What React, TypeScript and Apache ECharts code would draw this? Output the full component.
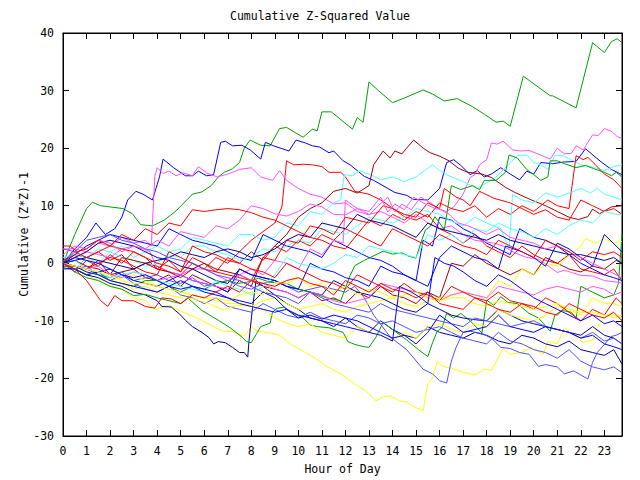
import React, { useEffect, useRef } from "react";
import * as echarts from "echarts";

type P = [number, number][];

const xTickLabels = ["0","1","2","3","4","5","6","7","8","9","10","11","12","13","14","15","16","17","18","19","20","21","22","23"];

const RED = "#ff0000", GREEN = "#00a000", BLUE = "#0000ff", MAGENTA = "#ff50ff", CYAN = "#50ffff",
  YELLOW = "#ffff00", DARKRED = "#a00000", NAVY = "#0000a0", LIGHTBLUE = "#5050ff";

const greenTop: P = [[0,0],[0.5,5],[1,9.5],[1.25,10.6],[1.6,10],[2.55,9.5],[2.95,8.6],[3.3,6.7],[3.8,6.5],[4.3,7.5],[4.75,8.9],[5.5,12],[5.9,12.4],[6.3,13.5],[6.6,15],[6.85,15.8],[7.2,16.4],[7.5,17.5],[7.7,20],[7.95,21.4],[8.4,20.5],[8.8,20.4],[9.2,23.4],[9.5,23.6],[10.2,21.9],[10.6,23.3],[10.8,23],[11,26.3],[11.4,26.3],[12.3,23.3],[12.5,25.3],[12.75,24.5],[13,31.5],[13.4,30],[14,27.9],[14.5,28.7],[15.3,30.1],[15.7,29.4],[16.2,28.2],[16.75,28.6],[17.4,27.2],[17.9,25.9],[18.4,24.5],[18.7,24.7],[19,23.8],[19.56,32.5],[19.86,31.6],[20.7,29.1],[20.8,29.1],[21.8,27],[22.5,38.3],[23,36.6],[23.3,38.5],[23.55,39],[23.75,38.3]];

const magentaTop: P = [[0,2.5],[0.5,2.5],[1,2],[1.5,3.5],[2,3],[2.5,4.5],[3,3.5],[3.5,4],[3.75,3],[3.9,15],[4,16.6],[4.25,15.6],[4.5,16],[4.8,15.2],[5.1,15.7],[5.5,15.2],[5.75,16.8],[6.1,15.7],[6.55,15],[7,15.5],[7.5,16.3],[8,16.6],[8.4,15],[8.9,14.4],[9.2,16.1],[9.5,14.4],[10,13],[10.5,12],[11,11.5],[11.5,10.3],[12,10.5],[12.5,9],[13,8.4],[13.4,10],[13.8,11.5],[14.1,8.9],[14.4,10.3],[14.8,9.3],[15.2,11.5],[15.6,10.5],[16,9.4],[16.3,9],[16.6,9.8],[17,12],[17.3,14.9],[17.5,15.4],[17.7,17.1],[18,18],[18.2,20.9],[18.45,20.7],[18.7,21.2],[19.1,19.7],[19.45,19.5],[19.8,19.6],[20.3,18.8],[20.7,18.1],[21,20],[21.3,19],[21.6,19.1],[21.8,20.4],[22.1,19.7],[22.5,22.3],[22.75,22.2],[23,23.4],[23.3,22.9],[23.55,22],[23.75,21.7]];

const blueTop: P = [[0,0],[0.5,2.5],[1,4.5],[1.4,7],[1.8,5],[2.2,6],[2.5,8],[2.75,11],[3.1,12.5],[3.4,12],[3.8,11],[4.1,15],[4.25,18.1],[4.7,16.6],[5.2,15.2],[5.5,15.2],[5.75,16],[6.1,15.2],[6.4,15.4],[6.7,21],[6.9,21.2],[7.2,20.4],[7.6,20.5],[7.95,19.7],[8.4,18.1],[8.6,21],[8.95,20.4],[9.6,19.5],[9.9,21.4],[10.3,20.9],[10.6,20.4],[10.9,20.2],[11.3,19.2],[11.5,19.5],[11.9,17.8],[12.2,17.1],[12.5,16.1],[12.8,15.1],[13.2,14.4],[13.8,13],[14.1,12.3],[14.6,11.8],[14.9,11.1],[15.5,11],[15.8,12.2],[16,13],[16.3,17.5],[16.6,18],[16.9,17],[17.3,15.4],[17.6,16.1],[17.9,15],[18.2,15.5],[18.6,16.6],[19,15.5],[19.4,14.5],[19.7,16],[20,15.5],[20.3,17.5],[20.8,17.3],[21.3,17.6],[21.8,17.7],[22.2,19.9],[22.6,18.5],[22.9,17.5],[23.3,16.3],[23.75,15.4]];

const redRight: P = [[0,0],[0.5,-1.5],[1,0.5],[1.5,-0.5],[2,1.5],[2.5,0],[3,2],[3.5,1],[4,-1],[4.5,0.5],[5,-1.5],[5.5,1],[6,0],[6.5,-1.5],[7,1],[7.5,0],[8,2],[8.5,0.5],[9,3],[9.5,2],[10,4],[10.5,3],[11,5],[11.5,4],[12,6],[12.5,5],[13,7.5],[13.5,6.5],[14,8.5],[14.5,7.5],[15,9],[15.5,8],[16,10.5],[16.5,9.5],[17,9],[17.5,10],[18,8],[18.5,9.5],[19,8.5],[19.5,10],[20,9],[20.6,11],[21,10],[21.5,9.5],[21.8,18.7],[22.1,18],[22.3,18.4],[22.6,17.2],[23,15.5],[23.4,14.5],[23.75,13]];

const redJump: P = [[0,0.5],[0.5,1.5],[1,1],[1.5,2],[2,0.5],[2.5,1.5],[3,-1],[3.5,0],[4,-0.5],[4.5,-1.5],[5,-2],[5.5,0],[6,-1],[6.5,1],[7,0],[7.5,2],[8,4],[8.5,5.5],[9,7],[9.3,9.8],[9.5,17.8],[9.8,17.1],[10.2,17.2],[10.6,17.1],[11,16.8],[11.3,15.8],[11.8,15.8],[12,15],[12.4,12.5],[13,12],[13.5,11],[14,9.6],[14.5,8.1],[15,7.5],[15.5,8.5],[16,6],[16.5,5],[17,3.5],[17.5,5],[18,3],[18.5,2],[19,1],[19.5,3],[20,1.5],[20.5,0.5],[21,0],[21.5,1.5],[22,-1],[22.5,-1.5],[23,-2],[23.4,-1],[23.75,-3]];

const darkRedUp: P = [[0,-0.5],[0.5,-0.5],[1,-1],[1.5,0.5],[2,-2],[2.5,-1.5],[3,-1],[3.5,-2.5],[4,-3],[4.5,-2],[5,-4],[5.5,-2],[6,-3],[6.5,-4],[7,-5],[7.5,-3],[8,-4],[8.5,1],[9,3],[9.5,5],[10,8],[10.5,9.5],[11,10.5],[11.5,12.5],[12,13],[12.5,12.2],[13,13.5],[13.2,17.1],[13.6,19.5],[13.9,18.3],[14.1,19.5],[14.4,19],[14.6,20],[14.9,21.4],[15.3,20],[15.6,19.2],[16,18.6],[16.4,17.8],[16.8,16.5],[17.2,15.8],[17.8,15.5],[18.2,14.9],[18.8,13.2],[19.2,12.3],[19.9,11],[20.5,10],[21,9],[21.5,8],[21.9,7.6],[22.3,8.1],[22.5,9.4],[22.8,8.6],[23.3,9.8],[23.75,10]];

const cyanHigh: P = [[0,1],[0.5,1.5],[1,1],[1.5,2.5],[2,2],[2.5,3],[3,1],[3.5,2],[4,3],[4.5,2],[5,2.5],[5.5,4.5],[6,4],[6.5,3.5],[7,3],[7.5,5],[8,5],[8.5,4],[9,4.5],[9.5,7],[10,6.5],[10.5,9],[11,8.5],[11.5,10.5],[11.8,11],[11.95,15.4],[12.3,15.2],[12.6,16.1],[13,15.5],[13.5,14.5],[14,15],[14.5,14.2],[15,15],[15.5,16.5],[15.7,17.1],[16,16.1],[16.4,15.2],[16.8,14.5],[17.2,13.8],[17.6,13],[18,14],[18.4,15],[18.9,17],[19.3,18.7],[19.7,18.8],[20,17.5],[20.3,17.1],[20.6,16.3],[20.9,18.8],[21.3,18.6],[21.6,18],[22,17.1],[22.6,16.6],[23,16.1],[23.4,16.8],[23.75,17.1]];

const cyanRight: P = [[0,0],[0.5,-1],[1,1],[1.5,0],[2,2],[2.5,1],[3,0.5],[3.5,-0.5],[4,0],[4.5,1.5],[5,1],[5.5,3],[6,3],[6.5,2],[7,1.5],[7.5,0.5],[8,1],[8.5,2.5],[9,2],[9.5,3],[10,4],[10.5,3.5],[11,6],[11.5,5.5],[12,5],[12.5,6.5],[13,8],[13.5,7.5],[14,7],[14.5,8],[15,9.5],[15.5,9],[16,8.5],[16.4,7.5],[16.7,7],[17,6.5],[17.5,8],[18,7],[18.6,6],[18.95,2.5],[19.1,12],[19.5,11],[20,10.5],[20.5,12.2],[21,11.5],[21.5,12.2],[22,13],[22.4,12.2],[22.7,13],[23,12],[23.4,11.5],[23.75,11]];

const redMid: P = [[0,0],[0.5,-0.5],[1,-1],[1.5,0],[2,1],[2.5,0.5],[3,-0.5],[3.5,-1.5],[4,-2],[4.5,2],[5,1],[5.5,0],[6,-1],[6.5,-1.5],[7,-2],[7.5,-2.5],[8,-3],[8.5,1],[9,0.5],[9.5,4],[10,3.5],[10.5,6.5],[11,6],[11.5,5],[12,8],[12.5,7.5],[13,7],[13.6,10],[14,9.5],[14.5,8.5],[15,8],[15.5,10.5],[16,9.5],[16.2,13],[16.7,11.5],[17,11],[17.3,10],[17.7,12.5],[18.3,11.3],[19,10.5],[19.5,9.5],[20,8.5],[20.5,9.3],[21,8],[21.5,7.5],[22,11],[22.5,10],[23,9],[23.4,9.5],[23.75,8.5]];

const magentaLow: P = [[0,0],[0.5,1],[1,2],[1.5,1.5],[2,1],[2.5,2.5],[3,3],[3.4,2.5],[3.7,2],[4,-1],[4.5,-1.5],[5,-2],[5.5,-1],[6,-1],[6.5,-2],[7,-3],[7.5,-2],[8,-1],[8.5,-2],[9,0.5],[9.5,0],[10,-1],[10.5,2.5],[11,1.5],[11.5,4],[11.9,3.5],[12,11],[12.5,9.5],[13,8.5],[13.5,9],[14,8],[14.5,7],[15,8.5],[15.5,7],[16,6],[16.5,6.5],[17,5],[17.5,4],[18.3,3.5],[18.7,3],[19.2,1.8],[19.7,1],[20.2,0.7],[20.6,-0.4],[21,-1.6],[21.3,-1.2],[21.6,-1.6],[22,-2.1],[22.5,-2.2],[23,-3],[23.75,-3.4]];

const magentaBand: P = [[0,1.5],[0.5,3],[1,2.5],[1.5,4],[2,3.5],[2.5,2],[3,3],[3.5,2.5],[4,4],[4.5,3],[5,5.5],[5.5,5],[6,4.5],[6.5,6.5],[7,6],[7.5,7.5],[8,10],[8.5,9.5],[9,8.6],[9.5,8.2],[10,9],[10.5,10.3],[11,9.8],[11.5,8.5],[12,8.4],[12.5,9.5],[13,9],[13.5,11.5],[13.8,8.9],[14.1,10.3],[14.5,9.3],[14.9,11.5],[15.3,10.5],[15.8,9.5],[16,9.4],[16.4,8.5],[16.8,7],[17.2,6.5],[17.5,6],[18,5],[18.5,6],[19,4.5],[19.5,4],[20,3.5],[20.5,2.5],[21,3],[21.5,2],[22,1],[22.5,0],[23,-1],[23.5,-2],[23.75,-2.5]];

const yellowRight: P = [[0,0],[0.5,-0.5],[1,-1.5],[1.5,-2],[2,-3],[2.5,-2.5],[3,-2],[3.5,-3],[4,-4],[4.5,-4.5],[5,-5],[5.5,-5.5],[6,-6],[6.5,-6.5],[7,-7],[7.5,-7],[8,-7.5],[8.5,-6.5],[9,-6],[9.5,-7],[10,-8],[10.5,-7.5],[11,-7],[11.5,-8],[12,-8.5],[12.5,-7.5],[13,-7],[13.5,-6.5],[14,-6],[14.5,-7],[15,-7.5],[15.5,-6.5],[16,-6],[16.5,-5.5],[17,-5],[17.5,-5.5],[18,-6],[18.5,-3],[19,-4],[19.5,-1],[20,-2],[20.5,0],[21,-0.5],[21.5,1.3],[22,3],[22.2,4.3],[22.6,3.5],[23,4.3],[23.4,3.5],[23.75,3.8]];

const navyLow: P = [[0,0],[0.5,-1],[1,-2],[1.5,-2.5],[2,-3.5],[2.5,-4],[3,-5],[3.5,-5.5],[4,-6.5],[4.2,-7.5],[4.6,-7.6],[5,-9],[5.2,-9.9],[5.5,-11],[5.9,-12],[6.2,-12.9],[6.4,-14],[6.6,-13.6],[6.9,-13.8],[7.2,-14.6],[7.5,-15.5],[7.7,-15.5],[7.85,-16.3],[7.9,-13.6],[8.05,-7.8],[8.2,-3],[8.5,-4],[9,-5.5],[9.5,-7],[10,-8],[10.5,-9.5],[11,-10],[11.5,-11],[12,-9.5],[12.5,-11],[13,-12],[13.5,-10],[14,-11.5],[14.5,-12.5],[15,-13],[15.5,-11],[16,-12],[16.5,-12.5],[17,-13],[17.5,-12],[18,-12.5],[18.5,-13.5],[19,-14],[19.5,-12.5],[20,-13],[20.5,-14],[21,-14.5],[21.5,-13.5],[22,-15],[22.5,-15.5],[23,-16],[23.4,-15],[23.75,-17.5]];

const yellowLow: P = [[0,0],[0.5,-1],[1,-2],[1.5,-3],[2,-4],[2.5,-4.5],[3,-6],[3.5,-6.5],[3.9,-8.1],[4.5,-7.3],[5.1,-8.5],[5.7,-9.5],[6.25,-10.7],[6.8,-11.8],[7.2,-11.8],[7.7,-12.7],[8,-11],[8.3,-11.8],[8.7,-12],[9.2,-12.5],[9.7,-14.1],[10.3,-15.5],[10.6,-16.2],[11.2,-17.9],[11.8,-19.2],[12.2,-20.4],[12.6,-21.5],[12.9,-22.3],[13.3,-23.9],[13.6,-23.2],[13.9,-23],[14.3,-23.9],[14.6,-24.1],[14.9,-24.9],[15.3,-25.6],[15.5,-20.9],[15.7,-20],[15.9,-17],[16.1,-17.9],[16.5,-18.2],[17,-18.9],[17.5,-19.4],[17.9,-18.4],[18.2,-18.6],[18.7,-14.8],[19,-15.8],[19.5,-15.5],[19.9,-14.6],[20.4,-15.8],[20.6,-13.6],[21,-14],[21.3,-11.2],[21.7,-12.5],[22.1,-13.8],[22.5,-13.3],[22.75,-10.7],[23.1,-9],[23.4,-9.5],[23.75,-9]];

const lightBlueDip: P = [[0,0],[0.5,-0.5],[1,-1],[1.5,-2],[2,-2.5],[2.5,-1.5],[3,-3],[3.5,-2.5],[4,-2],[4.5,-3],[5,-3.5],[5.5,-2.5],[6,-4],[6.5,-3.5],[7,-3],[7.5,-4],[8,-4.5],[8.5,-3.5],[9,-3],[9.5,-4],[10,-5],[10.5,-4.5],[11,-4],[11.5,-4.5],[12,-5],[12.4,-4],[12.8,-6],[13.2,-9],[13.9,-12.8],[14.6,-15],[15.3,-18.4],[15.7,-19.2],[16,-20.4],[16.3,-20.8],[16.5,-17],[16.7,-14.6],[17,-12],[17.3,-11.8],[17.8,-12.2],[18.2,-13],[18.6,-14.6],[19,-14.8],[19.4,-15.5],[19.8,-15.8],[20.2,-17.9],[20.5,-17.6],[21,-18],[21.3,-19.2],[21.7,-18.7],[22.3,-20.1],[22.5,-17.2],[22.7,-15.5],[23.3,-12.7],[23.5,-12.5],[23.75,-12]];

const lightBlueLow: P = [[0,-1],[0.5,-1],[1,-0.5],[1.5,-2],[2,-3],[2.5,-2],[3,-3.5],[3.5,-4.5],[4,-5],[4.5,-4],[5,-5.5],[5.5,-6],[6,-7],[6.5,-6],[7,-7.5],[7.5,-8],[8,-8.5],[8.5,-7],[9,-8],[9.5,-9],[10,-9.5],[10.5,-8.5],[11,-9.5],[11.5,-10],[12,-10.5],[12.5,-9],[13,-9.5],[13.5,-10.5],[14,-10],[14.5,-11],[15,-12],[15.5,-11.5],[16,-11],[16.5,-12],[17,-13],[17.5,-13.5],[18,-14],[18.5,-12],[19,-13.5],[19.5,-14],[20,-15],[20.5,-15.5],[21,-16.5],[21.5,-15],[22,-17],[22.5,-18],[23,-18.5],[23.4,-18],[23.75,-19]];

const blueDiag: P = [[0,0],[0.5,1.5],[1,3],[1.5,4],[2,5],[2.5,4.5],[3,4],[3.5,3.5],[4,3],[4.5,6],[5,5],[5.5,4],[6,3.5],[6.5,3],[7,2],[7.5,1],[8,0.5],[8.5,5],[9,4],[9.5,3],[10,2.5],[10.5,2],[11,1],[11.5,4],[12,3],[12.5,2],[13,1],[13.5,0.5],[14,-0.5],[14.5,-2],[15,-3],[15.3,4],[15.7,3],[16,8],[16.5,7.5],[17,6],[17.5,5],[18,3.5],[18.5,2.5],[19,1.5],[19.4,6],[20,4.5],[20.5,4],[21,3],[21.5,1.5],[22,0],[22.5,-1],[23,-2],[23.4,-2.5],[23.75,-3]];

const blueMid: P = [[0,-0.8],[0.5,-1],[1,-2],[1.5,-1.5],[2,-1],[2.5,-2],[3,-3],[3.5,-3.5],[4,-4],[4.5,-3],[5,-2],[5.5,-3],[6,-3.5],[6.5,-4],[7,-5],[7.5,-1],[8,-2],[8.5,-2.5],[9,-3],[9.5,-4],[10,-4.5],[10.5,0],[11,-1],[11.5,-1.5],[12,-2.5],[12.5,-3],[13,-4],[13.5,-0.5],[14,-1.5],[14.5,-2],[15,-3],[15.5,-4],[16,1],[16.5,3],[17,2],[17.5,1],[18,0.5],[18.5,-1],[18.8,3],[19.5,2],[20,1],[20.5,-0.5],[21,3.5],[21.5,2.5],[22,1],[22.5,-0.5],[23,5],[23.5,3],[23.75,2]];

const redLowMid: P = [[0,0],[0.5,2],[1,1],[1.5,2],[2,3],[2.5,2.5],[3,2],[3.5,1],[4,0],[4.5,-0.5],[5,-1.5],[5.5,3],[6,2],[6.5,1.5],[7,0.5],[7.5,0],[8,-1],[8.5,-1.5],[9,-2.5],[9.5,0],[10,-1],[10.5,-2],[11,-3],[11.5,-3.5],[12,-4.5],[12.5,-2],[13,-3],[13.5,-4],[14,-5],[14.5,-3.5],[15,-5],[15.5,-5.5],[16,-6.5],[16.5,-4],[17,-5],[17.5,-6],[18,-6.5],[18.5,-5],[19,-6.5],[19.5,-7],[20,-8],[20.5,-6],[21,-7],[21.5,-8.5],[22,-10],[22.5,-8],[23,-9],[23.5,-6],[23.75,-7]];

const cyanMid: P = [[0,0],[0.5,0.5],[1,-1],[1.5,-1.5],[2,-2.5],[2.5,-2],[3,-1.5],[3.5,-2],[4,-3],[4.5,-3.5],[5,-4],[5.5,-4.5],[6,-5],[6.5,-3],[7,-4],[7.5,-4.5],[8,-5.5],[8.5,-4],[9,-2],[9.5,1],[10,0],[10.5,-0.5],[11,-1],[11.5,0],[12,1.5],[12.5,1],[13,3],[13.5,2.5],[14,2],[14.5,1.5],[15,1],[15.5,5],[16,4],[16.5,5],[17,3.5],[17.5,6],[18,5.5],[18.5,7],[19,6],[19.5,5.5],[20,4.5],[20.5,6],[21,5],[21.5,6.5],[22,7.5],[22.5,7],[23,9],[23.5,8.5],[23.75,8.5]];

const greenLow: P = [[0,0],[0.5,-1.5],[1,-2.5],[1.5,-3],[2,-4],[2.5,-4.5],[3,-5.6],[3.5,-5.4],[4,-6],[4.5,-6.5],[5,-7],[5.3,-6],[5.9,-8.2],[6.6,-9.9],[7.1,-11.2],[7.6,-12.8],[7.8,-13.6],[8,-13.8],[8.2,-12.4],[8.4,-11],[8.8,-10.4],[8.9,-8.5],[9.1,-7.8],[9.4,-7.6],[9.7,-8.5],[10.2,-9.5],[10.5,-10.7],[10.8,-11],[11.3,-11.2],[11.9,-12],[12.1,-13.6],[12.4,-14.1],[12.8,-14.5],[13,-14.6],[13.3,-12.8],[13.6,-10.3],[14.1,-11.8],[14.6,-13.3],[15.1,-15],[15.5,-16.2],[15.7,-13.8],[15.9,-11.8],[16.1,-11.2],[16.3,-8.7],[16.6,-9.5],[16.9,-8.7],[17.3,-10],[17.8,-12.1],[18,-6.4],[18.3,-7.3],[18.6,-5.8],[18.9,-6.8],[19.3,-7],[19.8,-8.7],[20.2,-9.5],[20.7,-11.8],[20.9,-9],[21.2,-8.2],[21.6,-8.5],[21.8,-9.5],[22,-4],[22.5,-5],[23,-6],[23.4,-5.5],[23.6,-3.5],[23.75,5]];

const greenRise: P = [[0,0],[0.5,-1],[1,-2],[1.5,-1.5],[2,-3],[2.5,-3.5],[3,-4],[3.5,-3],[4,-3],[4.5,-4],[5,-5],[5.5,-4],[6,-4.5],[6.5,-3.5],[7,-3],[7.4,-3.5],[7.8,-3.3],[8.3,-2.6],[8.8,-3.3],[9.5,-3.5],[10,-4.5],[10.5,-5],[11.2,-6],[11.8,-6.5],[12.2,-2.1],[12.4,-0.4],[12.8,0.5],[13.6,2.1],[14,1.6],[14.4,1.8],[14.7,1.2],[15,0.9],[15.2,3.5],[15.4,5.8],[15.6,6.4],[15.8,8.1],[16,7],[16.2,5.8],[16.5,13.5],[16.9,12.8],[17.4,13.5],[17.7,12.8],[17.9,14.4],[18.4,14.4],[18.8,15.8],[18.95,18.8],[19.3,18.3],[19.7,16.3],[20,15.4],[20.3,14.4],[20.6,15],[20.7,17.8],[21,17.8],[21.3,17.3],[21.8,16.6],[22.2,17],[22.5,16.5],[23,15.8],[23.3,15.2],[23.5,15.8],[23.75,15]];

const redLow: P = [[0,0],[0.5,-1],[1,-3],[1.6,-6.5],[1.9,-7.5],[2.2,-5.6],[2.5,-6.5],[3,-6.5],[3.5,-7.5],[3.9,-7.8],[4.2,-6],[4.6,-6.2],[5,-7],[5.5,-5.5],[6,-6],[6.5,-5],[7,-4],[7.5,-5],[8,-3],[8.5,-3.5],[9,-4],[9.5,-3],[10,-2.5],[10.5,-3.5],[11,-4],[11.5,-5.5],[12,-3],[12.5,-4],[13,-5],[13.5,-3.5],[14,-4.5],[14.5,-5],[15,-6],[15.5,-5],[16,-7],[16.5,-7.5],[17,-8],[17.5,-6],[18,-7],[18.5,-8],[19,-8.5],[19.5,-7],[20,-7.5],[20.5,-8.5],[21,-9],[21.5,-7],[22,-8],[22.5,-9],[23,-9.5],[23.4,-8.5],[23.75,-10]];

const navyMid: P = [[0,0],[0.5,1],[1,2],[1.5,3.5],[2,4],[2.5,3.5],[3,3],[3.5,2],[4,1],[4.5,0.5],[5,-0.5],[5.5,-1],[6,-2],[6.5,-3],[7,-3.5],[7.5,-1],[8,-2],[8.5,-2.5],[9,-3],[9.5,-4],[10,-4.5],[10.5,-5],[11,-5.5],[11.5,-3],[12,-4],[12.5,-5],[13,-5.5],[13.5,-6],[14,-7],[14.5,-8],[15,-8.5],[15.5,-7],[16,-8],[16.5,-9],[17,-9.5],[17.5,-9.8],[18,-10],[18.5,-8],[19,-9],[19.5,-10],[20,-10.5],[20.5,-11],[21,-11.5],[21.5,-12],[22,-12.5],[22.5,-11],[23,-12.5],[23.4,-13],[23.75,-14]];

const blueStep: P = [[0,0],[0.5,-0.5],[1,-1.5],[1.5,-2],[2,-3],[2.5,-3.5],[3,-4],[3.5,-4.5],[4,-5],[4.5,-4],[5,-3],[5.5,-4],[6,-4.5],[6.5,-5],[7,-6],[7.5,-6.5],[8,-7],[8.5,-5],[9,-6],[9.5,-8],[10,-9.5],[10.5,-9],[11,-9.7],[11.5,-9],[12,-9.5],[12.5,-10],[13,-11],[13.5,-12],[14,-13],[14.5,-12.5],[15,-14],[15.5,-12],[16,-9],[16.5,-10.5],[17,-12],[17.5,-11.5],[18,-11],[18.5,-9],[19,-11],[19.5,-11.5],[20,-12],[20.5,-11],[21,-11.5],[21.5,-12],[22,-13],[22.5,-12.5],[23,-14],[23.4,-14.5],[23.75,-15]];

const blueJump: P = [[0,0],[0.5,1],[1,0.5],[1.5,0],[2,-1],[2.5,-2],[3,-2.5],[3.5,-2],[4,-3],[4.5,-4],[5,-4.5],[5.5,-4],[6,-5],[6.5,-5.5],[7,-6],[7.5,-7],[8,-7.5],[8.5,-8],[9,-8.5],[9.5,-8],[10,-9],[10.5,-9.5],[11,-10],[11.5,-10.5],[12,-11],[12.5,-11.5],[13,-12],[13.5,-12.5],[14,-13.5],[14.3,-4],[14.8,-5],[15.2,-6],[15.5,-7],[15.8,1],[16.2,0],[16.6,-0.5],[17,-1.5],[17.5,-3],[18,-4],[18.5,-2],[19,-3],[19.5,-4.5],[20,-6],[20.5,-7],[21,-8],[21.5,-9],[22,-10],[22.5,-9],[23,-10.5],[23.4,-10],[23.75,-11]];

const darkRedMid: P = [[0,0],[0.5,0.5],[1,-0.5],[1.5,-1],[2,-2],[2.5,1],[3,0.5],[3.5,0],[4,-1],[4.5,-1.5],[5,-2.5],[5.5,-1],[6,0],[6.5,-1],[7,-1.5],[7.5,-2],[8,-3],[8.5,-4],[9,-4.5],[9.5,-5],[10,-6],[10.5,-5],[11,-6.5],[11.5,-6],[12,-7],[12.5,-5],[13,-6],[13.5,-4],[14,-5.5],[14.5,-6],[15,-7],[15.5,-5],[16,-6],[16.5,0],[17,-0.5],[17.5,1.5],[18,0],[18.5,-1],[19,-2],[19.5,-1],[20,-2],[20.5,1],[21,0],[21.5,-1],[22,-1.5],[22.5,-0.5],[23,-1],[23.5,0.5],[23.75,0]];

const lightBlueMid: P = [[0,2.5],[0.5,2],[1,4],[1.5,4.5],[2,5],[2.5,4],[3,3.5],[3.5,2.5],[4,2],[4.5,1],[5,0.5],[5.5,0],[6,-1],[6.5,-2],[7,-2.5],[7.5,-3],[8,-4],[8.5,-5],[9,-5.5],[9.5,-6],[10,-7],[10.5,-5],[11,-6],[11.5,-7],[12,-7.5],[12.5,-8],[13,-8.5],[13.5,-7],[14,-8],[14.5,-8.5],[15,-9],[15.5,-9.5],[16,-10],[16.5,-10.5],[17,-11],[17.5,-9.5],[18,-10],[18.5,-10.5],[19,-11],[19.5,-10.5],[20,-10],[20.5,-11],[21,-11.5],[21.5,-12],[22,-13],[22.5,-12],[23,-13.5],[23.4,-13],[23.75,-14]];

const yellowMid: P = [[0,0],[0.5,-0.5],[1,-1.5],[1.5,-2],[2,-3],[2.5,-3.5],[3,-4.5],[3.5,-4],[4,-5],[4.5,-5.5],[5,-6],[5.5,-6.1],[6.2,-7],[6.8,-8.1],[7.4,-7.3],[8,-7.5],[8.5,-8],[9,-9.5],[9.5,-10.4],[10,-11],[10.5,-10.5],[11,-12],[11.5,-12.5],[12,-13],[12.5,-11],[13,-12],[13.5,-12.5],[14,-13.5],[14.5,-12],[15,-13],[15.5,-11],[16,-10.5],[16.5,-11.5],[17,-12],[17.5,-10.5],[18,-11],[18.5,-8],[19,-9],[19.5,-9.5],[20,-10],[20.5,-9],[21,-7.5],[21.5,-8],[22,-9],[22.5,-6],[23,-7],[23.4,-7],[23.75,-7.5]];

const redUpper: P = [[0,3],[0.3,3],[0.6,2],[1,2.5],[1.5,4],[2,3],[2.5,5],[3,4],[3.5,6],[4,5],[4.5,7],[5,6.5],[5.5,9.3],[6,9],[6.5,9.3],[7,9.5],[7.5,9.3],[8,8.8],[8.5,8],[9,7.5],[9.5,6.5],[10,5.5],[10.5,4.5],[11,4],[11.5,3],[12,2.5],[12.5,5],[13,4],[13.5,3],[14,6],[14.5,5],[15,4],[15.5,3],[16,5],[16.5,4],[17,3],[17.5,2.5],[18,1.5],[18.5,4],[19,3],[19.5,2],[20,1],[20.5,4],[21,3],[21.5,2],[22,0.5],[22.5,2],[23,1.5],[23.4,2],[23.75,1]];

const magentaMid: P = [[0,0],[0.5,-0.5],[1,-1],[1.5,-0.5],[2,-2],[2.5,-2.5],[3,-1.5],[3.5,-2],[4,-3],[4.5,-2.5],[5,-2],[5.5,-3],[6,-3.5],[6.5,-4],[7,-4.5],[7.5,-2],[8,-3],[8.5,-3.5],[9,-4.5],[9.5,-5],[10,-6],[10.5,-5],[11,-5.5],[11.5,-6.5],[12,-7],[12.5,-6.5],[13,-6],[13.5,-3.5],[14,-4],[14.5,-4.5],[15,-5],[15.5,-6],[16,-6.5],[16.5,-5.5],[17,-5],[17.5,-5.5],[18,-6],[18.5,-4],[19,-4.5],[19.5,-5],[20,-5.5],[20.5,-4.5],[21,-4],[21.5,-4.5],[22,-5],[22.5,-4],[23,-4.5],[23.4,-5.5],[23.75,-5]];

const navyUpper: P = [[0,0],[0.5,0.5],[1,1],[1.5,0.5],[2,0],[2.5,-0.5],[3,-1],[3.5,0],[4,0.5],[4.5,1],[5,2],[5.5,1.5],[6,1],[6.5,2],[7,2.5],[7.5,2],[8,1],[8.5,1.5],[9,2.5],[9.5,4],[10,5],[10.5,4.5],[11,7],[11.5,6.5],[12,6],[12.5,8.5],[13,7.5],[13.5,7],[14,6.5],[14.5,5.5],[15,4.5],[15.5,7],[16,6],[16.5,5.5],[17,5],[17.5,4.5],[18,4],[18.5,5],[19,4],[19.5,3.5],[20,3],[20.5,2.5],[21,2],[21.5,1.5],[22,1.5],[22.5,1],[23,0.5],[23.4,1],[23.75,0]];

const yellowUpper: P = [[0,0],[0.5,-0.5],[1,-1],[1.5,-1.5],[2,-2],[2.5,-3],[3,-3.5],[3.5,-3.5],[4,-4],[4.5,-4.5],[5,-5],[5.5,-5.5],[6,-6],[6.5,-6],[7,-6.5],[7.5,-5.5],[8,-5],[8.5,-5.5],[9,-3.3],[9.5,-3.5],[10,-2.5],[10.5,-4],[11,-3.5],[11.5,-5],[12,-4],[12.5,-5.5],[13,-4.5],[13.5,-5],[14,-6],[14.5,-5.5],[15,-5],[15.5,-6],[16,-6.5],[16.5,-6],[17,-6],[17.5,-7],[18,-7.5],[18.5,-6.5],[19,-7],[19.5,-7.5],[20,-8],[20.5,-7.5],[21,-7],[21.5,-8],[22,-8.5],[22.5,-8.5],[23,-9],[23.4,-9],[23.75,-9.5]];

const seriesList: { data: P; color: string }[] = [
  { data: redJump, color: RED },
  { data: greenTop, color: GREEN },
  { data: blueTop, color: BLUE },
  { data: magentaTop, color: MAGENTA },
  { data: cyanHigh, color: CYAN },
  { data: darkRedUp, color: DARKRED },
  { data: yellowLow, color: YELLOW },
  { data: navyLow, color: NAVY },
  { data: lightBlueDip, color: LIGHTBLUE },
  { data: redRight, color: RED },
  { data: greenLow, color: GREEN },
  { data: blueDiag, color: BLUE },
  { data: magentaLow, color: MAGENTA },
  { data: cyanRight, color: CYAN },
  { data: darkRedMid, color: DARKRED },
  { data: yellowRight, color: YELLOW },
  { data: navyMid, color: NAVY },
  { data: lightBlueLow, color: LIGHTBLUE },
  { data: redMid, color: RED },
  { data: greenRise, color: GREEN },
  { data: blueMid, color: BLUE },
  { data: magentaMid, color: MAGENTA },
  { data: cyanMid, color: CYAN },
  { data: yellowMid, color: YELLOW },
  { data: navyUpper, color: NAVY },
  { data: lightBlueMid, color: LIGHTBLUE },
  { data: redLowMid, color: RED },
  { data: magentaBand, color: MAGENTA },
  { data: blueStep, color: BLUE },
  { data: yellowUpper, color: YELLOW },
  { data: redLow, color: RED },
  { data: blueJump, color: BLUE },
  { data: redUpper, color: RED },
];

const FONT = "DejaVu Sans Mono";

export default function App() {
  const ref = useRef<HTMLDivElement>(null);
  useEffect(() => {
    if (!ref.current) return;
    const chart = echarts.init(ref.current, undefined, { renderer: "svg" });
    const axisCommon = {
      type: "value" as const,
      axisLine: { show: true, onZero: false, lineStyle: { color: "#000", width: 1 } },
      axisTick: { show: true, inside: true, length: 6, lineStyle: { color: "#000" } },
      splitLine: { show: false },
    };
    chart.setOption({
      animation: false,
      backgroundColor: "#fff",
      title: {
        text: "Cumulative Z-Squared Value",
        left: "center",
        top: 5,
        textStyle: { fontFamily: FONT, fontSize: 11.5, fontWeight: "normal", color: "#000" },
      },
      grid: { left: 63, right: 18, top: 33, bottom: 37, show: true, borderColor: "#000", borderWidth: 1, backgroundColor: "transparent" },
      xAxis: [
        {
          ...axisCommon,
          position: "bottom",
          min: 0,
          max: 23.75,
          interval: 1,
          name: "Hour of Day",
          nameLocation: "middle",
          nameGap: 27,
          nameMoveOverlap: false,
          nameTextStyle: { fontFamily: FONT, fontSize: 11.5, color: "#000" },
          axisLabel: {
            show: true,
            fontFamily: FONT,
            fontSize: 11.5,
            color: "#000",
            margin: 9,
            showMaxLabel: false,
            formatter: (v: number) => xTickLabels[Math.round(v)] ?? "",
          },
        },
        {
          ...axisCommon,
          position: "top",
          min: 0,
          max: 23.75,
          interval: 1,
          axisLabel: { show: false },
        },
      ],
      yAxis: [
        {
          ...axisCommon,
          position: "left",
          min: -30,
          max: 40,
          interval: 10,
          name: "Cumulative (Z*Z)-1",
          nameLocation: "middle",
          nameGap: 33,
          nameMoveOverlap: false,
          nameRotate: 90,
          nameTextStyle: { fontFamily: FONT, fontSize: 11.5, color: "#000" },
          axisLabel: { show: true, fontFamily: FONT, fontSize: 11.5, color: "#000", margin: 9 },
        },
        {
          ...axisCommon,
          position: "right",
          min: -30,
          max: 40,
          interval: 10,
          axisLabel: { show: false },
        },
      ],
      series: seriesList.map((s, i) => ({
        type: "line",
        name: "s" + i,
        data: s.data,
        xAxisIndex: 0,
        yAxisIndex: 0,
        showSymbol: false,
        symbol: "none",
        smooth: false,
        lineStyle: { color: s.color, width: 1 },
        itemStyle: { color: s.color },
        silent: true,
      })),
    });
    return () => chart.dispose();
  }, []);
  return (
    <div
      ref={ref}
      style={{ position: "fixed", left: 0, top: 0, width: 640, height: 480, background: "#fff" }}
    />
  );
}
